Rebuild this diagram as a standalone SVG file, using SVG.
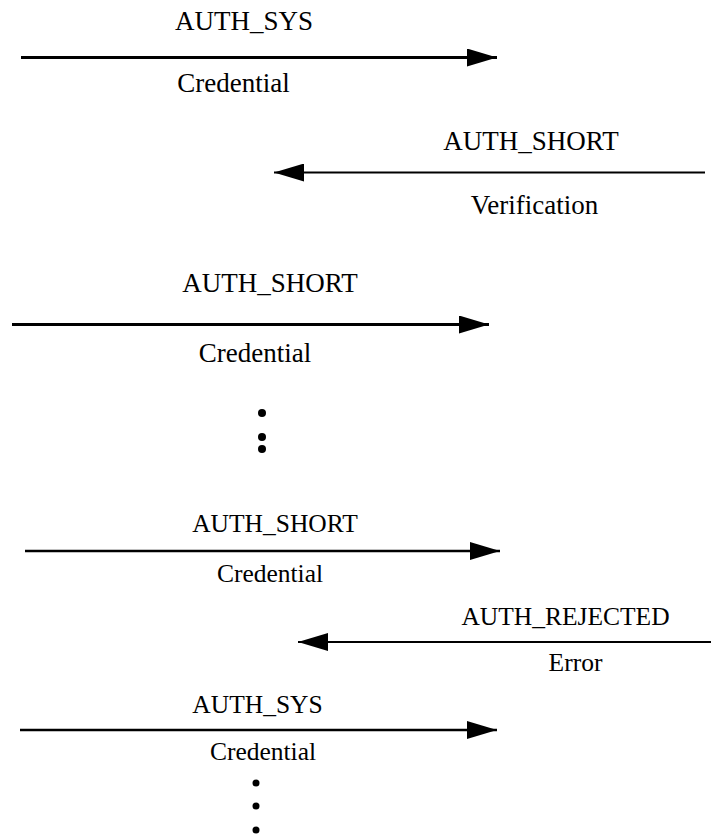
<svg xmlns="http://www.w3.org/2000/svg" width="711" height="836" viewBox="0 0 711 836">
<style>
  .t1 { font-family: "Liberation Serif", "Times New Roman", serif; font-size: 27px; fill: #000; text-anchor: middle; }
  .t2 { font-family: "Liberation Serif", "Times New Roman", serif; font-size: 25.5px; fill: #000; text-anchor: middle; }
  .ln { stroke: #000; fill: none; }
  .dot { fill: #000; }
</style>
<defs>
  <marker id="ah" markerUnits="userSpaceOnUse" markerWidth="30" markerHeight="18" refX="30" refY="9" orient="auto">
    <path d="M0,0 L30,9 L0,18 z" fill="#000"/>
  </marker>
</defs>
<g id="connectors">
  <line class="ln" x1="21" y1="57.5" x2="497" y2="57.5" stroke-width="3" marker-end="url(#ah)"/>
  <line class="ln" x1="705" y1="172.5" x2="274" y2="172.5" stroke-width="2" marker-end="url(#ah)"/>
  <line class="ln" x1="12" y1="324.5" x2="489" y2="324.5" stroke-width="3" marker-end="url(#ah)"/>
  <line class="ln" x1="25" y1="551" x2="500" y2="551" stroke-width="2.5" marker-end="url(#ah)"/>
  <line class="ln" x1="711" y1="642" x2="298" y2="642" stroke-width="2" marker-end="url(#ah)"/>
  <line class="ln" x1="20" y1="730" x2="497" y2="730" stroke-width="2.5" marker-end="url(#ah)"/>
</g>
<g id="msg1">
  <text class="t1" x="244" y="30">AUTH_SYS</text>
  <text class="t1" x="233.5" y="92">Credential</text>
</g>
<g id="msg2">
  <text class="t1" x="531" y="150">AUTH_SHORT</text>
  <text class="t1" x="534.5" y="214">Verification</text>
</g>
<g id="msg3">
  <text class="t1" x="270" y="291.5">AUTH_SHORT</text>
  <text class="t1" x="255" y="361.5">Credential</text>
</g>
<g id="ellipsis1">
  <circle class="dot" cx="262" cy="413" r="4"/>
  <circle class="dot" cx="262" cy="437" r="4"/>
  <circle class="dot" cx="262" cy="449" r="4"/>
</g>
<g id="msg4">
  <text class="t2" x="275" y="531.5">AUTH_SHORT</text>
  <text class="t2" x="270" y="581.5">Credential</text>
</g>
<g id="msg5">
  <text class="t2" x="565.5" y="625">AUTH_REJECTED</text>
  <text class="t2" x="575.5" y="670.5">Error</text>
</g>
<g id="msg6">
  <text class="t2" x="257.5" y="713">AUTH_SYS</text>
  <text class="t2" x="263" y="760">Credential</text>
</g>
<g id="ellipsis2">
  <circle class="dot" cx="256" cy="783" r="3.5"/>
  <circle class="dot" cx="256" cy="806" r="3.5"/>
  <circle class="dot" cx="256" cy="830" r="3.5"/>
</g>
</svg>
